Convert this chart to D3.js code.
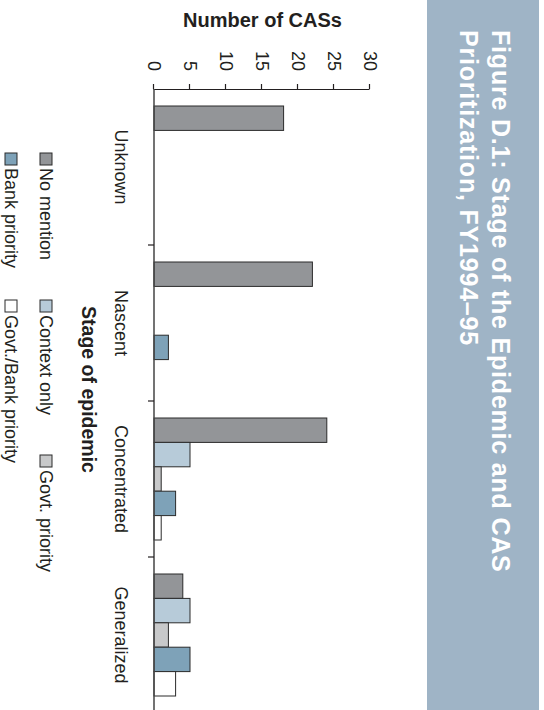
<!DOCTYPE html>
<html>
<head>
<meta charset="utf-8">
<script src="https://cdn.jsdelivr.net/npm/d3@7"></script>
<style>
  html, body { margin: 0; padding: 0; background: #fff; }
  svg { display: block; }
  text { font-family: "Liberation Sans", Arial, sans-serif; fill: #231f20; }
</style>
</head>
<body>
<svg id="chart" width="544" height="710"></svg>
<script>
// ---- data ----
const categories = ["Unknown", "Nascent", "Concentrated", "Generalized"];
const seriesNames = ["No mention", "Context only", "Govt. priority", "Bank priority", "Govt./Bank priority"];
const noMention = [18, 22, 24, 4];
const contextOnly = [0, 0, 5, 5];
const govtPriority = [0, 0, 1, 2];
const bankPriority = [0, 2, 3, 5];
const govtBankPriority = [0, 0, 1, 3];
const yTicks = [0, 5, 10, 15, 20, 25, 30];
const seriesColors = ["#939598", "#b7cbd9", "#c8c9ca", "#7ea2b8", "#ffffff"];
const titleLines = ["Figure D.1: Stage of the Epidemic and CAS", "Prioritization, FY1994\u201395"];

const seriesValues = [noMention, contextOnly, govtPriority, bankPriority, govtBankPriority];

const svg = d3.select("#chart");
// whole chart is drawn in its natural orientation, then turned 90° clockwise
const g = svg.append("g").attr("transform", "translate(544,0) rotate(90)");

// title panel
g.append("rect").attr("x", 0).attr("y", 5).attr("width", 710).attr("height", 112).attr("fill", "#9fb4c6");
g.selectAll("text.title").data(titleLines).join("text")
  .attr("class", "title")
  .attr("x", 30).attr("y", (d, i) => 52 + i * 32)
  .style("fill", "#ffffff").style("font-weight", "bold").style("font-size", "25px")
  .style("letter-spacing", "0.8px")
  .text(d => d);

// scales
const y = d3.scaleLinear().domain([0, 30]).range([390, 174]);
const x = d3.scaleBand().domain(categories).range([89, 713]);
const xi = d3.scaleBand().domain(seriesNames).range([17, x.bandwidth() - 17]);

// bars
const rows = [];
categories.forEach((c, ci) => {
  seriesNames.forEach((s, si) => {
    rows.push({ cat: c, ser: s, si, v: seriesValues[si][ci] });
  });
});
g.append("g").selectAll("rect").data(rows.filter(d => d.v > 0)).join("rect")
  .attr("x", d => x(d.cat) + xi(d.ser))
  .attr("width", xi.bandwidth())
  .attr("y", d => y(d.v))
  .attr("height", d => y(0) - y(d.v))
  .attr("fill", d => seriesColors[d.si])
  .attr("stroke", "#2b2b2b").attr("stroke-width", 1);

// value axis
const yAxis = g.append("g").attr("transform", "translate(89,0)")
  .call(d3.axisLeft(y).tickValues(yTicks).tickSize(5).tickSizeOuter(0).tickPadding(13));
yAxis.selectAll("path, line").attr("stroke", "#231f20").attr("stroke-width", 1.2);
yAxis.selectAll("text").style("font-size", "18px").style("font-family", "'Liberation Sans', Arial, sans-serif").attr("fill", "#231f20");

// category axis
g.append("line").attr("x1", 89).attr("x2", 713).attr("y1", y(0)).attr("y2", y(0))
  .attr("stroke", "#444").attr("stroke-width", 1.5);
g.append("g").selectAll("line").data(categories.slice(1)).join("line")
  .attr("x1", d => x(d)).attr("x2", d => x(d))
  .attr("y1", y(0)).attr("y2", y(0) + 6)
  .attr("stroke", "#231f20").attr("stroke-width", 1.2);
g.append("g").selectAll("text").data(categories).join("text")
  .attr("x", d => x(d) + x.bandwidth() / 2).attr("y", 429)
  .attr("text-anchor", "middle").style("font-size", "18px")
  .text(d => d);

// axis titles
g.append("text").attr("x", 389.5).attr("y", 462).attr("text-anchor", "middle")
  .style("font-weight", "bold").style("font-size", "19.5px").text("Stage of epidemic");
g.append("text").attr("transform", "translate(27,281.5) rotate(-90)").attr("text-anchor", "middle")
  .style("font-weight", "bold").style("font-size", "20px").text("Number of CASs");

// legend
const legCols = [153, 300, 455];
const legend = g.append("g").selectAll("g").data(seriesNames).join("g")
  .attr("transform", (d, i) => {
    const row = i < 3 ? 0 : 1;
    const col = i < 3 ? i : i - 3;
    return `translate(${legCols[col]},${row === 0 ? 504 : 539})`;
  });
legend.append("rect").attr("x", 0).attr("y", -12).attr("width", 12).attr("height", 12)
  .attr("fill", (d, i) => seriesColors[i]).attr("stroke", "#2b2b2b").attr("stroke-width", 1);
legend.append("text").attr("x", 15).attr("y", 0).style("font-size", "18px").text(d => d);
</script>
</body>
</html>
